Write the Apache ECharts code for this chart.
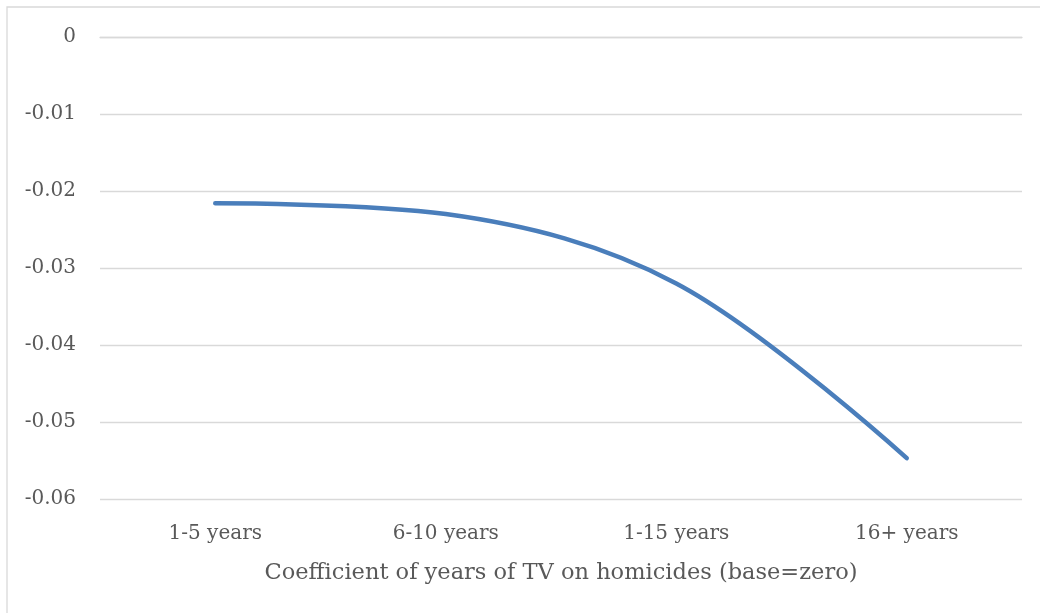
<!DOCTYPE html>
<html>
<head>
<meta charset="utf-8">
<script src="https://cdn.jsdelivr.net/npm/echarts@6/dist/echarts.min.js"></script>
<style>
  html, body { margin: 0; padding: 0; background: #ffffff; }
  #chart { width: 1040px; height: 613px; }
</style>
</head>
<body>
<div id="chart"></div>
<script>
// Periods of TV exposure and the estimated coefficient on homicides
const categories = ['1-5 years', '6-10 years', '1-15 years', '16+ years'];
const coefficients = [-0.0216, -0.0230, -0.0320, -0.0547];
const axisTitle = 'Coefficient of years of TV on homicides (base=zero)';

const textColor = '#595959';
const gridColor = '#d9d9d9';
const fontFamily = '"DejaVu Serif", serif';

const chart = echarts.init(document.getElementById('chart'), null, { renderer: 'canvas' });

chart.setOption({
  animation: false,
  backgroundColor: '#ffffff',
  graphic: [{
    type: 'rect',
    shape: { x: 7, y: 7, width: 1060, height: 640 },
    style: { fill: 'none', stroke: gridColor, lineWidth: 1.3 },
    silent: true
  }],
  grid: { left: 100, right: 18, top: 37, bottom: 114, containLabel: false },
  xAxis: {
    type: 'category',
    data: categories,
    boundaryGap: true,
    axisLine: { show: true, lineStyle: { color: gridColor, width: 1.3 } },
    axisTick: { show: false },
    axisLabel: { color: textColor, fontSize: 20, fontFamily: fontFamily, margin: 25 },
    name: axisTitle,
    nameLocation: 'middle',
    nameGap: 63,
    nameTextStyle: { color: textColor, fontSize: 22.5, fontFamily: fontFamily }
  },
  yAxis: {
    type: 'value',
    min: -0.06,
    max: 0,
    interval: 0.01,
    axisLine: { show: false },
    axisTick: { show: false },
    splitLine: { show: true, lineStyle: { color: gridColor, width: 1.3 } },
    axisLabel: {
      color: textColor, fontSize: 20, fontFamily: fontFamily, margin: 24,
      formatter: function (v) { return v === 0 ? '0' : String(Number(v.toFixed(2))); }
    }
  },
  series: [{
    type: 'line',
    data: coefficients,
    smooth: 0.35,
    symbol: 'none',
    lineStyle: { color: '#4a7ebb', width: 4.5, cap: 'round' }
  }]
});
</script>
</body>
</html>
